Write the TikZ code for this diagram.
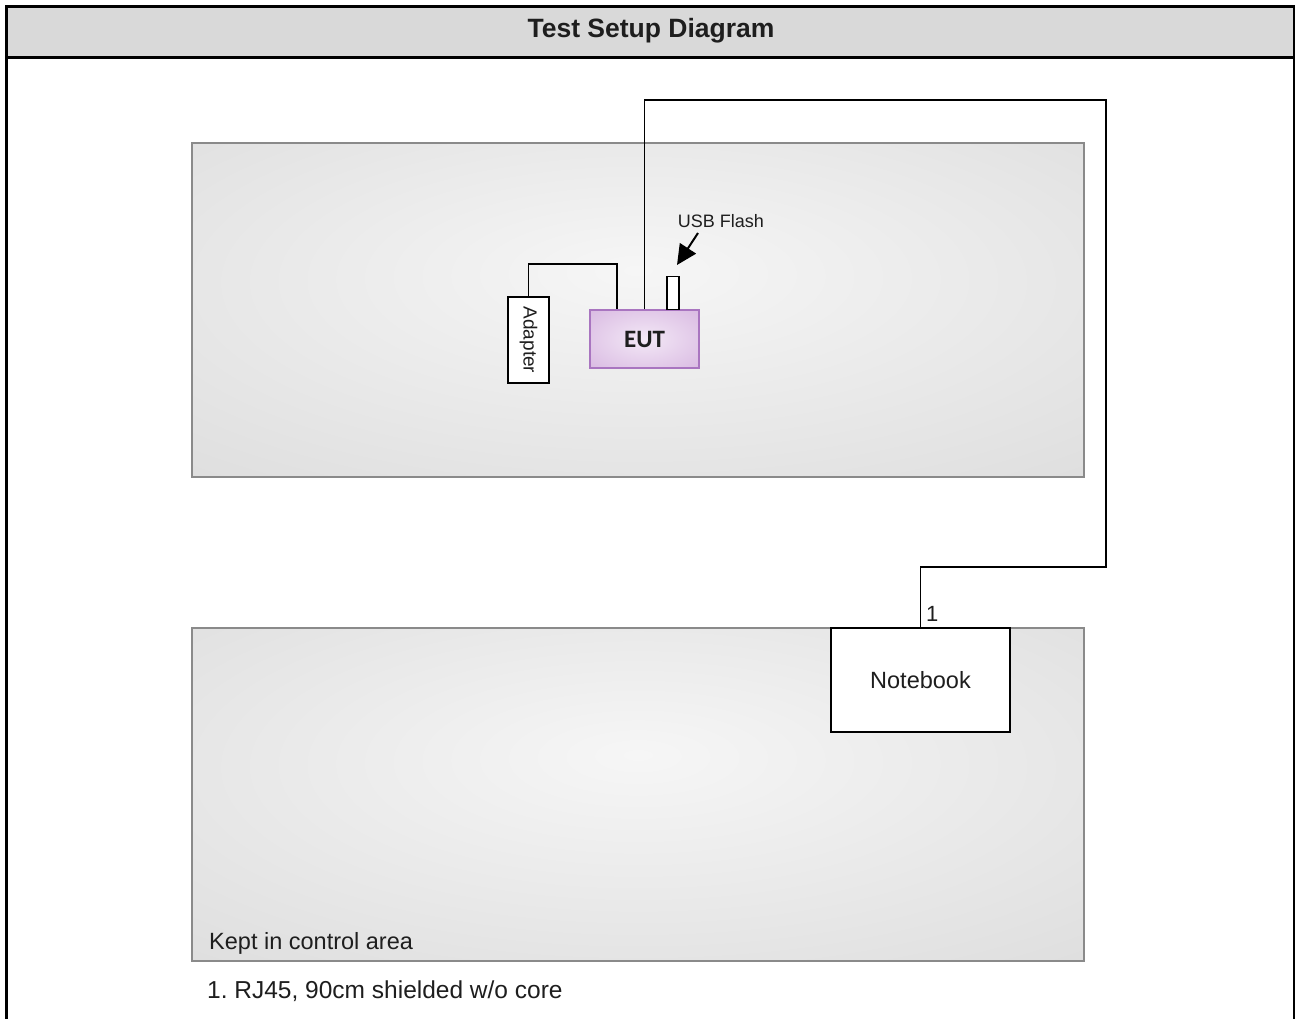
\documentclass[tikz,border=0pt]{standalone}
\usepackage{fontspec}
\setmainfont{Liberation Sans}
\newfontfamily\eutfont{Carlito}
\usetikzlibrary{arrows.meta}
\frenchspacing
\definecolor{gc0}{HTML}{F6F6F6}
\definecolor{gc1}{HTML}{D7D7D7}
\definecolor{gc2}{HTML}{CCCCCC}
\definecolor{pc0}{HTML}{F3E8F6}
\definecolor{pc1}{HTML}{CFA8DA}
\definecolor{pc2}{HTML}{C193D0}
\definecolor{boxedge}{HTML}{8A8A8A}
\definecolor{eutedge}{HTML}{A975C0}
\definecolor{headfill}{HTML}{D9D9D9}
\definecolor{txt}{HTML}{1E1E1E}
\pgfdeclareradialshading{grayshade}{\pgfpoint{0bp}{6bp}}{color(0bp)=(gc0); color(50bp)=(gc1); color(75bp)=(gc2)}
\pgfdeclareradialshading{eutshade}{\pgfpoint{0bp}{0bp}}{color(0bp)=(pc0); color(50bp)=(pc1); color(75bp)=(pc2)}
\tikzset{
  tablebox/.style={shading=grayshade, draw=boxedge, line width=2pt, inner sep=0pt},
  whitebox/.style={fill=white, draw=black, line width=1.5pt, inner sep=0pt},
  cable/.style={draw=black, line width=1.8pt},
  frameline/.style={draw=black, line width=3pt},
  lbl/.style={text=txt, inner sep=0pt},
}
\begin{document}
\begin{tikzpicture}[x=1pt,y=-1pt]
\useasboundingbox (0,0) rectangle (1295,1019);
% frame and header
\filldraw[frameline, fill=headfill] (6.5,6.5) rectangle (1294,57.5);
\draw[frameline] (6.5,57.5) -- (6.5,1019);
\draw[frameline] (1294,57.5) -- (1294,1019);
\node[lbl, font=\fontsize{26.5}{31}\selectfont\bfseries] (title) at (651,31) {Test Setup Diagram};
% tables
\node[tablebox, minimum width=892pt, minimum height=333pt] (uppertable) at (638,310) {};
\node[tablebox, minimum width=892pt, minimum height=333pt] (lowertable) at (638,794.5) {};
% EUT
\node[shading=eutshade, draw=eutedge, line width=1.5pt, inner sep=0pt, minimum width=109pt, minimum height=58pt, font=\eutfont\bfseries\fontsize{25}{30}\selectfont, text=txt] (eut) at (644.5,339) {EUT};
% adapter
\node[whitebox, minimum width=41pt, minimum height=86pt] (adapter) at (528.5,340) {};
\node[lbl, rotate=-90, font=\fontsize{19}{22}\selectfont] (adaptertext) at (adapter.center) {Adapter};
% USB flash
\node[whitebox, minimum width=12pt, minimum height=33pt, anchor=south] (usb) at (673,310) {};
\node[lbl, font=\fontsize{18}{21}\selectfont] (usblabel) at (721,221) {USB Flash};
\coordinate (arrowstart) at (698,233);
\coordinate (arrowtip) at (677,265);
\draw[line width=2pt, -{Triangle[length=20pt,width=19pt]}] (arrowstart) -- (arrowtip);
% notebook
\node[whitebox, minimum width=179pt, minimum height=104pt] (notebook) at (920.5,680) {};
\node[lbl, font=\fontsize{23.5}{28}\selectfont] (notebooktext) at (notebook.center) {Notebook};
% cables
\coordinate (c1) at (1106,100);
\coordinate (c2) at (1106,567);
\coordinate (a1) at (617,264);
\draw[cable] (adapter.north) |- (a1) -- ([xshift=-27.5pt]eut.north);
\draw[cable] (eut.north) |- (c1) -- (c2) -| (notebook.north);
\node[lbl, anchor=base west, font=\fontsize{22}{26}\selectfont] (cablelabel) at (926,621) {1};
% texts
\node[lbl, anchor=base west, font=\fontsize{23.5}{28}\selectfont] (kept) at (209,949) {Kept in control area};
\node[lbl, anchor=base west, font=\fontsize{24.5}{29}\selectfont] (note) at (207,998) {1. RJ45, 90cm shielded w/o core};
\end{tikzpicture}
\end{document}
